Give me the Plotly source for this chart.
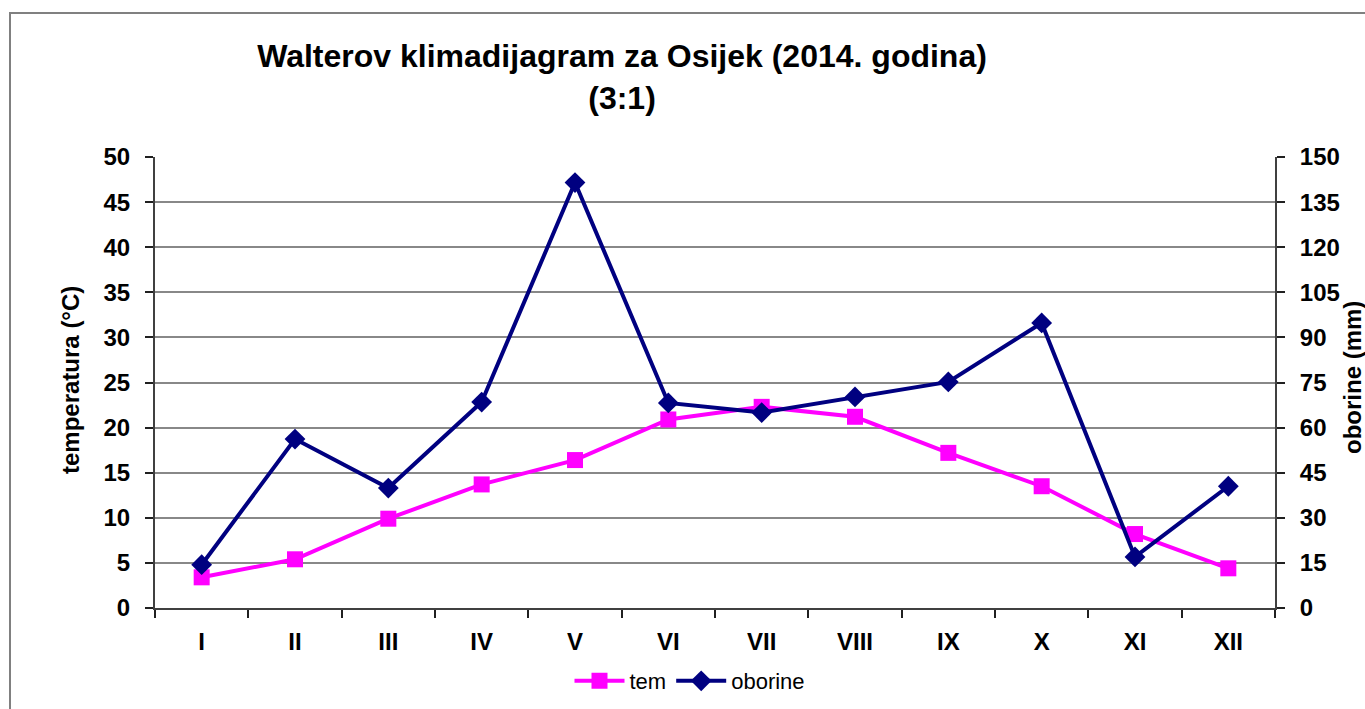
import plotly.graph_objects as go

months = ["I", "II", "III", "IV", "V", "VI", "VII", "VIII", "IX", "X", "XI", "XII"]
tem = [3.4, 5.4, 9.9, 13.7, 16.4, 20.9, 22.3, 21.2, 17.2, 13.5, 8.2, 4.4]
oborine = [14.4, 56.2, 39.9, 68.5, 141.5, 68.2, 65.0, 70.2, 75.2, 94.8, 17.0, 40.5]
title_text = "Walterov klimadijagram za Osijek (2014. godina)<br>(3:1)"

W, H = 1365, 709
L, R, T, B = 155, 90, 157, 101
FONT = "Liberation Sans, Arial, sans-serif"

fig = go.Figure()
fig.add_trace(go.Scatter(
    x=months, y=tem, name="tem", mode="lines+markers",
    line=dict(color="#FF00FF", width=4),
    marker=dict(symbol="square", size=16, color="#FF00FF"),
    yaxis="y"))
fig.add_trace(go.Scatter(
    x=months, y=oborine, name="oborine", mode="lines+markers",
    line=dict(color="#000080", width=4),
    marker=dict(symbol="diamond", size=16, color="#000080"),
    yaxis="y2"))

tickfont = dict(family=FONT, size=24, color="black", weight="bold")

fig.update_layout(
    width=W, height=H,
    margin=dict(l=L, r=R, t=T, b=B, autoexpand=False),
    paper_bgcolor="white", plot_bgcolor="white",
    title=dict(text=title_text, x=622 / W, xanchor="center",
               y=1 - 67 / H, yanchor="top", yref="container",
               font=dict(family=FONT, size=32, color="black", weight="bold")),
    xaxis=dict(type="category", showgrid=False, showline=True, linecolor="#404040",
               linewidth=2, ticks="outside", tickson="boundaries", ticklen=8,
               tickcolor="#202020", tickwidth=1.5, tickfont=tickfont,
               ticklabelstandoff=11, range=[-0.5, 11.5], automargin=False),
    yaxis=dict(range=[0, 50], dtick=5, showgrid=True, gridcolor="#888888", gridwidth=2,
               showline=True, linecolor="#404040", linewidth=2, ticks="outside",
               ticklen=8, tickcolor="#202020", tickwidth=1.5, tickfont=tickfont,
               ticklabelstandoff=10, zeroline=False, automargin=False),
    yaxis2=dict(range=[0, 150], dtick=15, overlaying="y", side="right", showgrid=False,
                showline=True, linecolor="#404040", linewidth=2, ticks="outside",
                ticklen=8, tickcolor="#202020", tickwidth=1.5, tickfont=tickfont,
                ticklabelstandoff=10, zeroline=False, automargin=False),
    legend=dict(orientation="h", x=(690 - L) / (W - L - R), xanchor="center",
                y=(H - B - 681) / (H - T - B), yanchor="middle",
                font=dict(family=FONT, size=22, color="black"),
                itemwidth=50, traceorder="normal"),
    showlegend=True,
)

plot_w = W - L - R
plot_h = H - T - B

def px(xp):
    return (xp - L) / plot_w

def py(yp):
    return (H - B - yp) / plot_h

fig.add_shape(type="rect", xref="paper", yref="paper",
              x0=px(10), x1=px(1400), y0=py(760), y1=py(13),
              line=dict(color="#808080", width=2), fillcolor="rgba(0,0,0,0)", layer="below")

fig.add_annotation(text="temperatura (°C)", textangle=-90, xref="paper", yref="paper",
                   x=px(70), y=py(380), showarrow=False, xanchor="center", yanchor="middle",
                   font=dict(family=FONT, size=24, color="black", weight="bold"))
fig.add_annotation(text="oborine (mm)", textangle=-90, xref="paper", yref="paper",
                   x=px(1352), y=py(378), showarrow=False, xanchor="center", yanchor="middle",
                   font=dict(family=FONT, size=24, color="black", weight="bold"))

fig.write_html("out.html", config={"displayModeBar": False},
               post_script="document.body.style.margin='0px';document.body.style.overflow='hidden';")
